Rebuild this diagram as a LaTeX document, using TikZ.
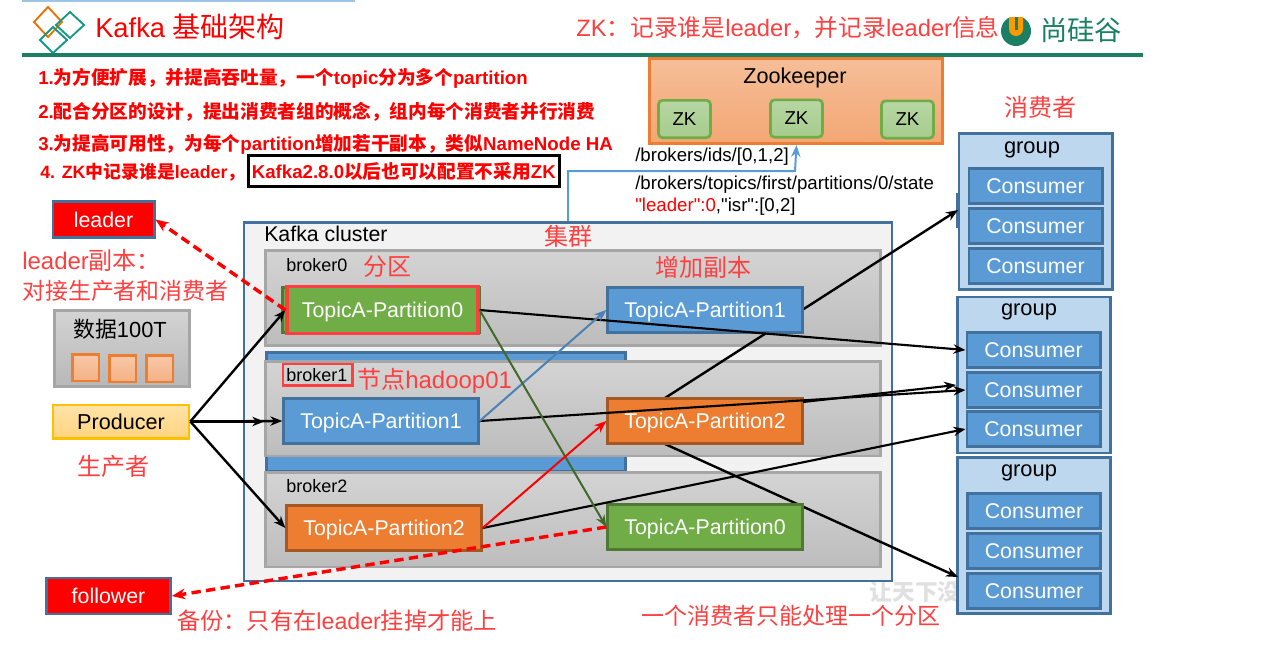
\documentclass[tikz,border=0pt]{standalone}
\usepackage{fontspec}
\setmainfont{Liberation Sans}
\newfontfamily\plainfont{Liberation Sans}
\newfontfamily\cjk{Noto Sans CJK SC}
\usetikzlibrary{arrows.meta}
\definecolor{kblue}{HTML}{5B9BD5}
\definecolor{kdark}{HTML}{41719C}
\definecolor{kgreen}{HTML}{70AD47}
\definecolor{korange}{HTML}{ED7D31}
\definecolor{kred}{HTML}{FF3F3F}
\definecolor{kteal}{HTML}{1A7F64}
\definecolor{kpale}{HTML}{BDD7EE}
\tikzset{
	box/.style={draw, inner sep=0pt, line width=2pt},
	partition/.style={box, minimum width=146pt, minimum height=34pt, text=white, text height=10.5pt, text depth=0pt, font=\fontsize{16}{18}\selectfont},
	bluepart/.style={partition, fill=kblue, draw=kdark},
	orangepart/.style={partition, fill=korange, draw=korange!70!black},
	greenpart/.style={partition, fill=kgreen, draw=kgreen!70!black},
	consumer/.style={box, fill=kblue, draw=kdark, minimum width=100pt, minimum height=26pt, text=white, font=\fontsize{16}{18}\selectfont},
	group/.style={box, fill=kpale, draw=kdark, minimum width=115pt, minimum height=117pt},
	grouptext/.style={font=\fontsize{16.4}{18}\selectfont},
	broker/.style={box, top color=black!17, bottom color=black!26, draw=black!35, minimum width=461pt, minimum height=71pt},
	zkbox/.style={box, rounded corners=3pt, top color=kgreen!50, bottom color=kgreen!62, draw=kgreen, minimum width=39pt, minimum height=28pt, font=\fontsize{14}{16}\selectfont},
	square/.style={box, top color=korange!42, bottom color=korange!60, draw=korange, minimum width=20pt, minimum height=20pt},
	tag/.style={box, fill=red, draw=kdark, text=white, minimum height=27pt, font=\fontsize{16}{18}\selectfont},
	redtext/.style={text=kred, font=\fontsize{18}{22}\selectfont},
	note/.style={text=red, anchor=west, font=\fontsize{14}{16}\selectfont\bfseries},
	path/.style={anchor=west, inner sep=0pt, font=\fontsize{14}{16}\selectfont},
	brokertext/.style={anchor=west, inner sep=0pt, font=\fontsize{13.5}{16}\selectfont},
	conn/.style={-{Stealth[length=9pt,width=7pt]}, line width=1.8pt, black},
	thinconn/.style={-{Stealth[length=9pt,width=7pt]}, line width=1.5pt},
	dashconn/.style={-{Stealth[length=10pt,width=8pt]}, line width=2.6pt, red, dash pattern=on 7pt off 4pt},
}
\begin{document}
\begin{tikzpicture}[x=0.75pt,y=-0.75pt]

	\useasboundingbox (0,0) rectangle (1283,644);

	\fill[kblue!60] (22,0) rectangle (355,2);
	\draw[orange!90!black, line width=1.4pt] (48,7) -- (62,22) -- (48,37) -- (34,22) -- cycle;
	\draw[kteal!80!cyan, line width=1.4pt] (70,12) -- (84,25) -- (70,38) -- (56,25) -- cycle;
	\draw[kteal!80!cyan, line width=1.4pt] (53,27) -- (67,40) -- (53,53) -- (40,40) -- cycle;
	\draw[kteal, line width=2.4pt] (22,55) -- (1143,55);

	\node (title) at (95,27) [anchor=west, inner sep=0pt, text=red, font=\fontsize{20.5}{24}\selectfont] {Kafka {\fontsize{21}{24}\selectfont\cjk 基础架构}};
	\node (zktitle) at (576,28) [anchor=west, inner sep=0pt, text=kred, font=\fontsize{17.8}{22}\selectfont] {ZK{\cjk ：记录谁是}leader{\cjk ，并记录}leader{\cjk 信息}};
	\fill[kteal] (1016,31) circle (15);
	\fill[white] (1009,14) rectangle (1023,24);
	\fill[orange!80!yellow] (1009,17) -- (1023,17) -- (1023,29) arc (0:180:7) -- cycle;
	\fill[kteal] (1014.5,17) rectangle (1017.5,30);
	\node (logotext) at (1040,30) [anchor=west, inner sep=0pt, text=kteal, font=\fontsize{20.5}{24}\selectfont] {\cjk 尚硅谷};

	\node (note1) at (38,78) [note, inner sep=0pt] {1.{\cjk 为方便扩展，并提高吞吐量，一个}topic{\cjk 分为多个}partition};
	\node (note2) at (38,112) [note, inner sep=0pt] {2.{\cjk 配合分区的设计，提出消费者组的概念，组内每个消费者并行消费}};
	\node (note3) at (38,144) [note, inner sep=0pt] {3.{\cjk 为提高可用性，为每个}partition{\cjk 增加若干副本，类似}NameNode HA};
	\node (note4) at (40,172) [note, inner sep=0pt, font=\fontsize{13.4}{16}\selectfont\bfseries] {4. ZK{\cjk 中记录谁是}leader{\cjk ，}};
	\node (note5) at (247,171) [note, draw=black, line width=2.2pt, minimum width=233pt, minimum height=23pt, inner sep=0pt, align=center] {Kafka2.8.0{\cjk 以后也可以配置不采用}ZK};

	\node (zookeeper) at (796,101) [box, top color=korange!50, bottom color=korange!68, draw=korange, minimum width=220pt, minimum height=64pt] {};
	\node (zktext) at (795,78) [font=\fontsize{16.2}{18}\selectfont] {Zookeeper};
	\node (zk1) at (684.5,119) [zkbox] {ZK};
	\node (zk2) at (796.5,118.5) [zkbox] {ZK};
	\node (zk3) at (907.5,119.5) [zkbox] {ZK};

	\node (ids) at (635,157) [path] {/brokers/ids/[0,1,2]};
	\node (state) at (635,185) [path] {/brokers/topics/first/partitions/0/state};
	\node (isr) at (635,207) [path] {\plainfont{\color{red}"leader":0},"isr":[0,2]};

	\node (watermark) at (915,592) [text=black!12, font=\fontsize{17}{20}\selectfont\bfseries] {\cjk 让天下没};

	\node (consumerlabel) at (1040,107) [redtext] {\cjk 消费者};
	\node (g1) at (1035.5,211.5) [group] {};
	\node (g2) at (1034,375) [group] {};
	\node (g3) at (1034,535.5) [group] {};
	\node (gt1) at (1032,148) [grouptext, yshift=-1.5pt] {group};
	\node (gt2) at (1029,310) [grouptext, yshift=-1.5pt] {group};
	\node (gt3) at (1029,471) [grouptext, yshift=-1.5pt] {group};
	\foreach \n/\cx/\cy in {a/1035.5/186, b/1035.5/226, c/1035.5/266, d/1033.5/350, e/1033.5/390, f/1033.5/429, g/1034/511, h/1034/551, i/1034/591} {
		\node (c\n) at (\cx,\cy) [consumer] {Consumer};
	}
	\coordinate (tickup) at (957,193);
	\coordinate (tickdown) at (957,228);
	\draw[kdark, line width=1pt] (tickup) -- (tickdown);

	\node (cluster) at (568,401.5) [box, fill=black!5, draw=kdark, minimum width=486pt, minimum height=269pt] {};
	\node (clustertext) at (264,234) [anchor=west, inner sep=0pt, font=\fontsize{16}{18}\selectfont] {Kafka cluster};
	\node (clusterlabel) at (568,236) [redtext] {\cjk 集群};
	\node (backbar) at (446,412) [box, fill=kblue, draw=kdark, minimum width=269pt, minimum height=89pt] {};
	\node (b0) at (573,298) [broker] {};
	\node (b1) at (573,408.5) [broker] {};
	\node (b2) at (573,519.5) [broker] {};
	\node (b0text) at (286,265) [brokertext] {broker0};
	\node (b1text) at (286,375) [brokertext] {broker1};
	\node (b1frame) at (317.5,374.5) [box, draw=kred, minimum width=52pt, minimum height=16pt] {};
	\node (b2text) at (286,486) [brokertext] {broker2};
	\node (fenqu) at (387,267) [redtext] {\cjk 分区};
	\node (addcopy) at (703,267) [redtext] {\cjk 增加副本};
	\node (hadoop) at (357,381) [redtext, anchor=west, inner sep=0pt] {{\cjk 节点}hadoop01};

	\coordinate (p2rtop) at (665,398);
	\coordinate (p2rbot) at (665,444);
	\coordinate (g1in) at (958,210);
	\coordinate (g3in) at (958,577);
	\draw[conn] (p2rtop) -- (g1in);
	\draw[conn] (p2rbot) -- (g3in);

	\node (p0back) at (381,310) [greenpart, minimum width=148pt] {};
	\node (p0) at (382.5,310) [greenpart, draw=kred, minimum width=143pt, minimum height=35pt, line width=2.6pt] {TopicA-Partition0};
	\node (p1r) at (705,310) [bluepart] {TopicA-Partition1};
	\node (p1) at (381,421) [bluepart] {TopicA-Partition1};
	\node (p2r) at (705,421) [orangepart] {TopicA-Partition2};
	\node (p2) at (384,528) [orangepart] {TopicA-Partition2};
	\node (p0r) at (705,527) [greenpart] {TopicA-Partition0};

	\node (leader) at (103.5,219.5) [tag, minimum width=76pt] {leader};
	\node (follower) at (108.5,596) [tag, minimum width=93pt] {follower};
	\node (leadernote) at (22,260) [redtext, anchor=west, inner sep=0pt] {leader{\cjk 副本：}};
	\node (leadernote2) at (22,291) [redtext, anchor=west, inner sep=0pt, font=\fontsize{17.2}{20}\selectfont] {\cjk 对接生产者和消费者};
	\node (followernote) at (177,621) [redtext, anchor=west, inner sep=0pt, font=\fontsize{17.4}{20}\selectfont] {{\cjk 备份：只有在}leader{\cjk 挂掉才能上}};
	\node (onlyone) at (791,616) [redtext, font=\fontsize{17.2}{20}\selectfont] {\cjk 一个消费者只能处理一个分区};

	\node (data) at (122,348.5) [box, top color=black!17, bottom color=black!28, draw=black!35, minimum width=101pt, minimum height=57pt] {};
	\node (datatext) at (120,329) [font=\fontsize{16.4}{18}\selectfont] {{\cjk 数据}100T};
	\node (sq1) at (85.5,367.5) [square] {};
	\node (sq2) at (122.5,368.5) [square] {};
	\node (sq3) at (159.5,368.5) [square] {};

	\definecolor{kgoldtop}{HTML}{FFE3A8}
	\definecolor{kgoldbot}{HTML}{FFD47F}
	\definecolor{kgold}{HTML}{FFC000}
	\node (producer) at (121,421.5) [box, top color=kgoldtop, bottom color=kgoldbot, draw=kgold, minimum width=102pt, minimum height=25pt, font=\fontsize{16.2}{18}\selectfont] {Producer};
	\node (producerlabel) at (113,466) [redtext] {\cjk 生产者};

	\draw[conn] (producer.east) -- (p0.west);
	\draw[conn] (producer.east) -- (b1.west |- producer.east);
	\draw[conn] (producer.east) -- (p1.west);
	\draw[conn] (producer.east) -- (p2.west);

	\draw[conn, line width=1.6pt] (p0.east) -- (cd.west);
	\draw[conn, line width=1.6pt] (p1.east) -- (ce.west);
	\draw[conn, line width=1.6pt] (p2.east) -- (cf.west);
	\coordinate (p2rout) at (803,402);
	\coordinate (g2in) at (956,385);
	\draw[conn, line width=1.6pt] (p2rout) -- (g2in);

	\draw[thinconn, kdark!60!kblue] (p1.east) -- (p1r.west);
	\draw[thinconn, kgreen!60!black] (p0.east) -- (p0r.west);
	\draw[thinconn, red] (p2.east) -- (p2r.west);

	\draw[dashconn] (p0.west) -- (leader.east);
	\draw[dashconn] (p0r.west) -- (follower.east);

	\coordinate (zkup) at (568,171);
	\coordinate (zkturn) at (795,171);
	\draw[thinconn, kblue] (cluster.north -| zkup) -- (zkup) -- (zkturn) -- (zk2.south |- zookeeper.south);
\end{tikzpicture}
\end{document}
